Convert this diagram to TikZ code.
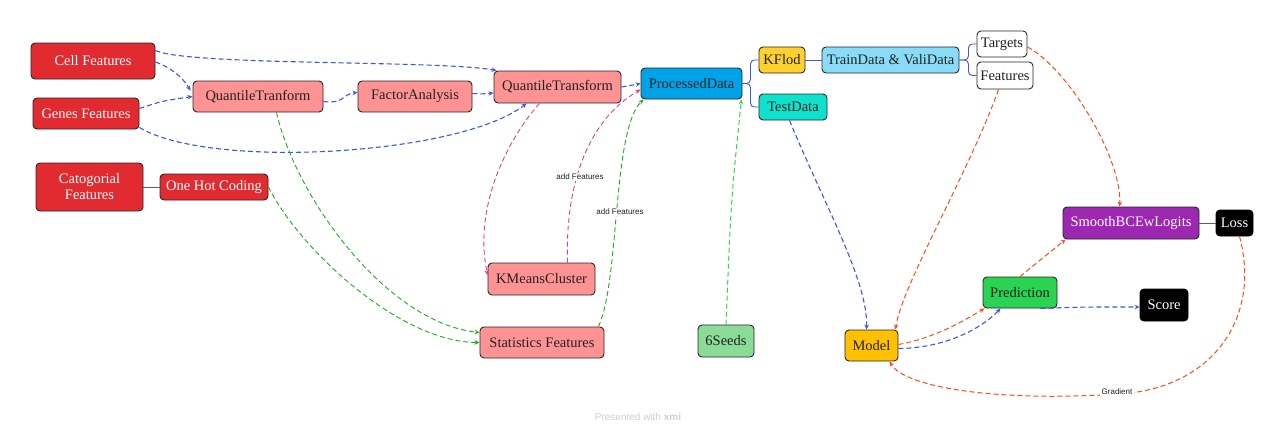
\documentclass[tikz,border=0pt]{standalone}
\usepackage{fontspec}
\setmainfont{Liberation Serif}
\newfontfamily\labfont{Liberation Sans}
\usetikzlibrary{arrows.meta}
\definecolor{cred}{HTML}{E22B30}
\definecolor{cpink}{HTML}{FF9393}
\definecolor{cproc}{HTML}{00A3E8}
\definecolor{cyel}{HTML}{FFD12E}
\definecolor{clblue}{HTML}{88DCF7}
\definecolor{cturq}{HTML}{0FE2CC}
\definecolor{cseed}{HTML}{8ADC98}
\definecolor{camber}{HTML}{FFC000}
\definecolor{cgreen}{HTML}{2AD352}
\definecolor{cpurple}{HTML}{9C27B0}
\definecolor{cborder}{HTML}{262626}
\definecolor{ctext}{HTML}{222222}
\definecolor{eblue}{HTML}{3F55E3}
\definecolor{egreen}{HTML}{22AA22}
\definecolor{elgreen}{HTML}{3CCF5F}
\definecolor{epink}{HTML}{D9438F}
\definecolor{eorange}{HTML}{FF4A1C}
\definecolor{cfoot}{HTML}{CFCFCF}
\begin{document}
\begin{tikzpicture}[x=1pt,y=-1pt,
  box/.style={draw=cborder, line width=0.9pt, rounded corners=4pt, inner sep=0pt,
    font=\fontsize{14.5}{16}\selectfont, align=center, text=ctext},
  wbox/.style={box, text=white},
  tip/.style={-{Stealth[length=5pt,width=4.5pt]}},
  dsh/.style={dash pattern=on 5pt off 3pt},
  bl/.style={draw=eblue, line width=1.1pt, dsh, tip},
  gr/.style={draw=egreen, line width=0.9pt, dsh, tip},
  lg/.style={draw=elgreen, line width=1pt, dsh, tip},
  pk/.style={draw=epink, line width=0.9pt, dsh, tip},
  orr/.style={draw=eorange, line width=1pt, dsh, tip},
  tree/.style={draw=eblue, line width=0.9pt, rounded corners=4pt},
  lab/.style={font=\labfont\fontsize{8}{9}\selectfont, text=ctext, fill=white, inner sep=1.5pt}
]
\useasboundingbox[fill=white] (0,0) rectangle (1284,434);

% nodes
\node[wbox, fill=cred, minimum width=124pt, minimum height=36pt] (cf) at (93,61) {Cell Features};
\node[wbox, fill=cred, minimum width=106pt, minimum height=31pt] (gf) at (86,113.5) {Genes Features};
\node[wbox, fill=cred, minimum width=107pt, minimum height=48pt] (cat) at (89.5,187) {Catogorial\\Features};
\node[wbox, fill=cred, minimum width=108pt, minimum height=26pt] (ohc) at (214,187) {One Hot Coding};
\node[box, fill=cpink, minimum width=130pt, minimum height=31pt] (qt1) at (258,96.5) {QuantileTranform};
\node[box, fill=cpink, minimum width=114pt, minimum height=31pt] (fa) at (415,96.5) {FactorAnalysis};
\node[box, fill=cpink, minimum width=127pt, minimum height=32pt] (qt2) at (557.5,87) {QuantileTransform};
\node[box, fill=cproc, minimum width=101pt, minimum height=31pt] (pd) at (691.5,83.5) {ProcessedData};
\node[box, fill=cyel, minimum width=46pt, minimum height=26pt] (kf) at (782,60) {KFlod};
\node[box, fill=clblue, minimum width=137pt, minimum height=26pt] (tv) at (890.5,60) {TrainData \& ValiData};
\node[box, fill=white, minimum width=50pt, minimum height=26pt] (tg) at (1002,44) {Targets};
\node[box, fill=white, minimum width=56pt, minimum height=27pt] (ft) at (1005,75.5) {Features};
\node[box, fill=cturq, minimum width=68pt, minimum height=26pt] (td) at (793,107) {TestData};
\node[box, fill=cpink, minimum width=107pt, minimum height=32pt] (km) at (541.5,279) {KMeansCluster};
\node[box, fill=cpink, minimum width=124pt, minimum height=31pt] (sf) at (542,342.5) {Statistics Features};
\node[box, fill=cseed, minimum width=56pt, minimum height=32pt] (sd) at (726,341) {6Seeds};
\node[box, fill=camber, minimum width=53pt, minimum height=31pt] (md) at (871.5,345.5) {Model};
\node[box, fill=cgreen, minimum width=74pt, minimum height=31pt] (pr) at (1020,292.5) {Prediction};
\node[wbox, fill=black, draw=black, minimum width=48pt, minimum height=32pt] (sc) at (1164,305) {Score};
\node[wbox, fill=cpurple, minimum width=136pt, minimum height=32pt] (sm) at (1131,223) {SmoothBCEwLogits};
\node[wbox, fill=black, draw=black, minimum width=37pt, minimum height=26pt] (ls) at (1234.5,223) {Loss};

% solid tree connectors
\draw[tree] (cat.east) -- (ohc.west);
\draw[tree] (pd.east) -- ++(8,0) |- (kf.west);
\draw[tree] (pd.east) -- ++(8,0) |- (td.west);
\draw[tree] (kf.east) -- (tv.west);
\draw[tree] (tv.east) -- ++(9,0) |- (tg.west);
\draw[tree] (tv.east) -- ++(9,0) |- (ft.west);
\draw[tree] (sm.east) -- (ls.west);

% blue dashed
\draw[bl] ([yshift=-8pt]cf.north east) .. controls (190,66) and (440,60) .. ([xshift=3pt]qt2.north west);
\draw[bl] ([yshift=-1pt]cf.east) .. controls (172,68) and (183,78) .. ([xshift=-2pt,yshift=-10pt]qt1.north west);
\draw[bl] ([yshift=5pt]gf.east) .. controls (162,101) .. (qt1.west);
\draw[bl] ([yshift=-14pt]gf.east) .. controls (210,170) and (460,155) .. ([xshift=33pt]qt2.south west);
\draw[bl] ([yshift=-5pt]qt1.east) .. controls (345,104) and (342,94) .. ([yshift=4pt]fa.west);
\draw[bl] ([yshift=3pt]fa.east) .. controls (483,94) .. ([yshift=-6pt]qt2.west);
\draw[bl] (qt2.east) .. controls (630,86) .. (pd.west);
\draw[bl] ([xshift=31pt]td.south west) .. controls (822,200) and (868,280) .. ([xshift=22pt]md.north west);
\draw[bl] ([yshift=-3pt]md.east) .. controls (950,348) and (985,325) .. ([xshift=18pt]pr.south west);
\draw[bl] ([xshift=-17pt]pr.south east) .. controls (1080,307) .. ([yshift=-2pt]sc.west);

% pink dashed
\draw[pk] ([xshift=46pt]qt2.south west) .. controls (515,130) and (472,200) .. ([yshift=4pt]km.west);
\draw[pk] ([xshift=80pt]km.north west) .. controls (565,190) and (585,122) .. ([yshift=-6pt]pd.west);
\node[lab] (l1) at (580,177) {add Features};

% green dashed
\draw[gr] ([xshift=-6pt]sf.north east) .. controls (620,280) and (612,130) .. ([xshift=3pt]pd.south west);
\node[lab] (l2) at (620,212) {add Features};
\draw[gr] ([xshift=84pt]qt1.south west) .. controls (295,195) and (385,322) .. ([yshift=-6pt]sf.north west);
\draw[gr] (ohc.east) .. controls (300,250) and (400,342) .. (sf.west);
\draw[lg] (sd.north) .. controls (731,200) .. ([xshift=-1pt]pd.south east);

% orange dashed
\draw[orr] ([xshift=22pt]ft.south west) .. controls (970,170) and (902,285) .. ([xshift=-3pt]md.north east);
\draw[orr] ([yshift=-3pt]tg.east) .. controls (1070,70) and (1122,160) .. ([xshift=57pt]sm.north west);
\draw[orr] ([yshift=1pt]md.east) .. controls (935,338) and (965,320) .. ([xshift=2pt]pr.south west);
\draw[orr] (pr.north) -- ([xshift=3pt]sm.south west);
\draw[orr] ([xshift=5pt]ls.south) .. controls (1262,320) and (1210,390) .. (1117,394)
  .. controls (1000,402) and (905,388) .. ([xshift=-9pt]md.south east);
\node[lab] (l3) at (1117,392) {Gradient};

% footer
\node[font=\labfont\fontsize{10}{12}\selectfont, text=cfoot] (foot) at (638,417) {Presented with \textbf{xmi}};
\end{tikzpicture}
\end{document}
